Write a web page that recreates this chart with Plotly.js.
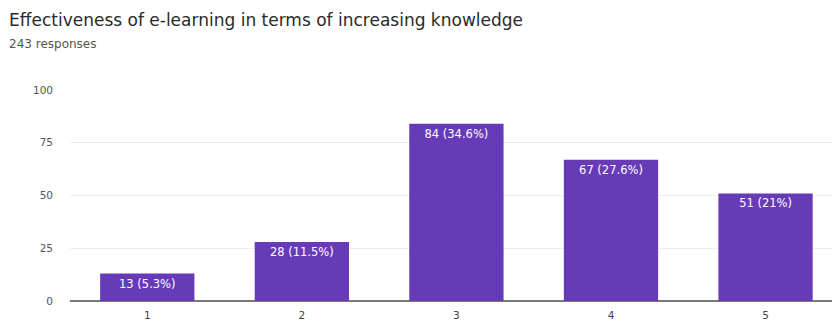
<!DOCTYPE html>
<html><head><meta charset="utf-8">
<script src="https://cdn.plot.ly/plotly-3.0.1.min.js"></script>
<style>body{margin:0;background:#fff}#c{width:832px;height:336px}</style>
</head><body><div id="c"></div>
<script>
var categories = [1, 2, 3, 4, 5];
var counts = [13, 28, 84, 67, 51];
var percents = ["5.3%", "11.5%", "34.6%", "27.6%", "21%"];
var yTicks = [0, 25, 50, 75, 100];
var total = 243;

var labels = counts.map(function(c, i){ return c + " (" + percents[i] + ")"; });
var F = "DejaVu Sans, Arial, sans-serif";

Plotly.newPlot("c", [{
  type: "bar", x: categories, y: counts, text: labels,
  textposition: "inside", insidetextanchor: "end",
  textfont: {color: "#ffffff", size: 11.5, family: F},
  textangle: 0,
  marker: {color: "#673ab7"}, width: 0.61, hoverinfo: "none"
}], {
  width: 832, height: 336,
  margin: {l: 70, r: 0, t: 90, b: 35},
  paper_bgcolor: "#fff", plot_bgcolor: "#fff",
  showlegend: false,
  xaxis: {range: [0.5, 5.43], tickvals: categories, ticktext: categories.map(String),
    showgrid: false, zeroline: false, showline: false, ticks: "", ticklabelstandoff: 6,
    tickfont: {size: 10.5, color: "#444", family: F}, fixedrange: true},
  yaxis: {range: [0, 100], tickvals: yTicks, showgrid: true, gridcolor: "#eeeeee",
    zeroline: true, zerolinecolor: "#777", zerolinewidth: 1.5, showline: false, ticks: "",
    tickfont: {size: 10.5, color: "#555", family: F}, ticklabelstandoff: 16, fixedrange: true},
  annotations: [
    {text: "Effectiveness of e-learning in terms of increasing knowledge", xref: "paper", yref: "paper",
     x: -63/762, y: 1 + 70/211, xanchor: "left", yanchor: "middle", showarrow: false,
     font: {size: 17, color: "#2a2a2a", family: F}},
    {text: total + " responses", xref: "paper", yref: "paper",
     x: -63/762, y: 1 + 46/211, xanchor: "left", yanchor: "middle", showarrow: false,
     font: {size: 12, color: "#555", family: F}}
  ]
}, {displayModeBar: false, staticPlot: true});
</script></body></html>
